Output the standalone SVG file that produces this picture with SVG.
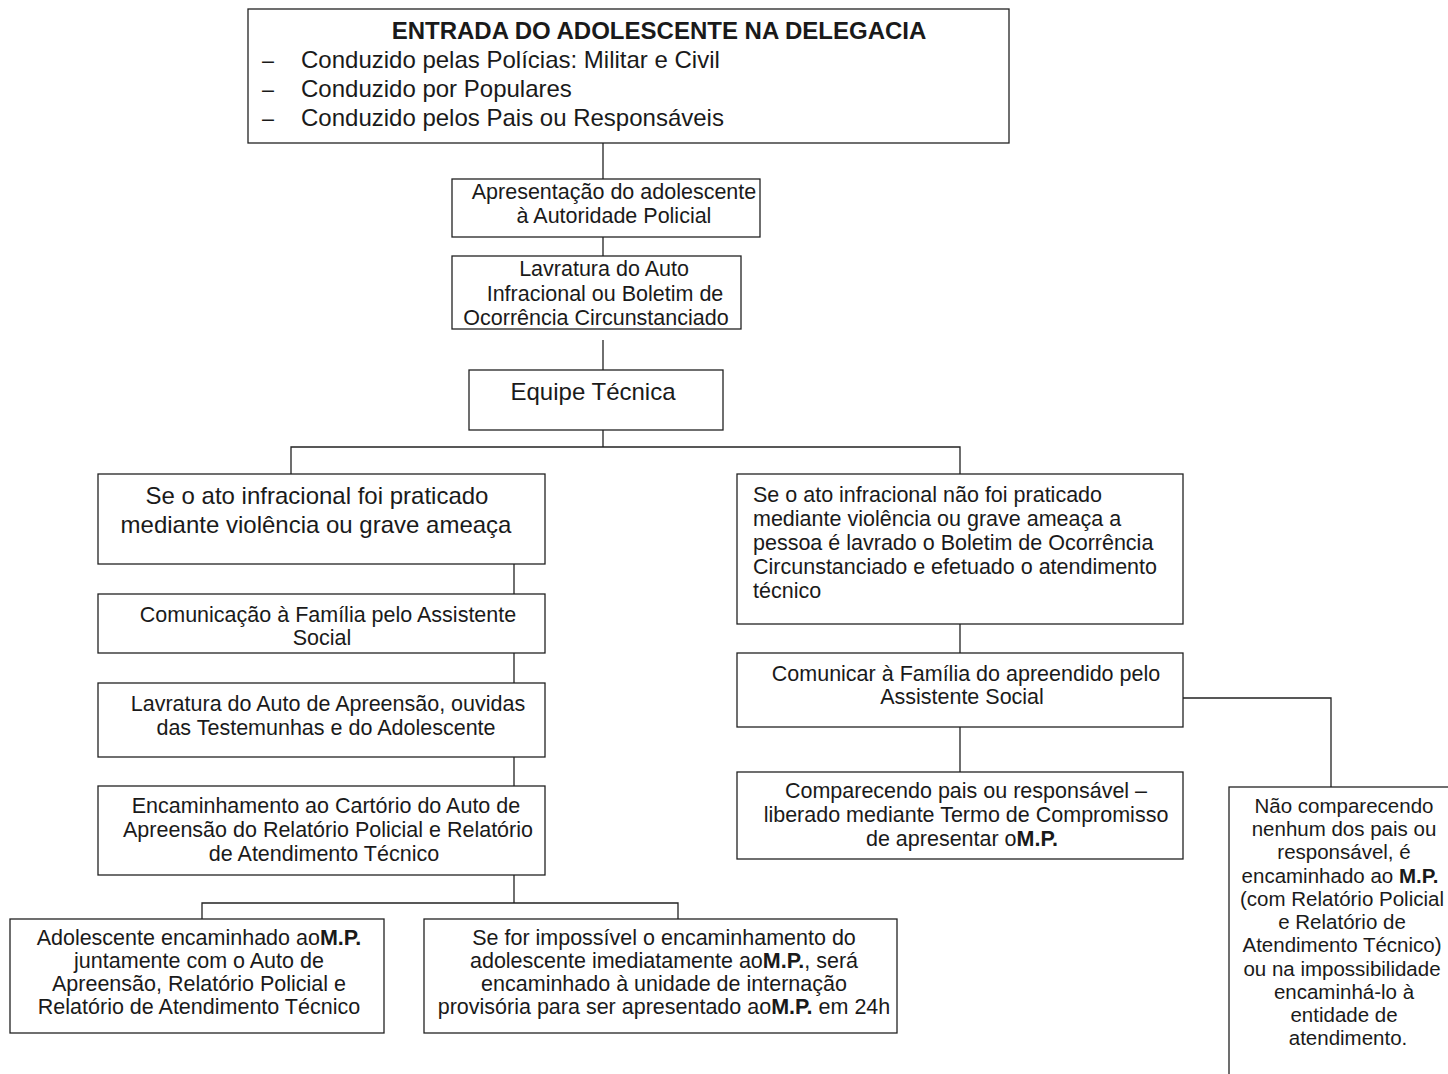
<svg xmlns="http://www.w3.org/2000/svg" width="1448" height="1074" viewBox="0 0 1448 1074">
<style>
  .box { fill: #ffffff; stroke: #222222; stroke-width: 1.3; }
  .ln { fill: none; stroke: #222222; stroke-width: 1.3; }
  text { font-family: "Liberation Sans", Arial, sans-serif; fill: #1a1a1a; }
  .c { text-anchor: middle; }
  .b { font-weight: bold; }
  .s24 { font-size: 24px; }
  .s21 { font-size: 21.5px; }
  .s20 { font-size: 20.5px; }
</style>
<rect width="1448" height="1074" fill="#ffffff"/>

<g id="connectors">
  <path class="ln" d="M603 143 V179"/>
  <path class="ln" d="M603 237 V256"/>
  <path class="ln" d="M603 340 V370"/>
  <path class="ln" d="M603 430 V447"/>
  <path class="ln" d="M291 474 V447 H960 V474"/>
  <path class="ln" d="M514 564 V594"/>
  <path class="ln" d="M514 653 V683"/>
  <path class="ln" d="M514 757 V786"/>
  <path class="ln" d="M514 875 V903"/>
  <path class="ln" d="M202 919 V903 H678 V919"/>
  <path class="ln" d="M960 624 V653"/>
  <path class="ln" d="M960 727 V772"/>
  <path class="ln" d="M1183 698 H1331 V787"/>
</g>

<g id="entrada">
  <rect class="box" x="248" y="9" width="761" height="134"/>
  <text class="s24 b c" x="659" y="39">ENTRADA DO ADOLESCENTE NA DELEGACIA</text>
  <text class="s21" x="262" y="68">–</text>
  <text class="s24" x="301" y="68">Conduzido pelas Polícias: Militar e Civil</text>
  <text class="s21" x="262" y="97">–</text>
  <text class="s24" x="301" y="97">Conduzido por Populares</text>
  <text class="s21" x="262" y="126">–</text>
  <text class="s24" x="301" y="126">Conduzido pelos Pais ou Responsáveis</text>
</g>

<g id="apresentacao">
  <rect class="box" x="452" y="179" width="308" height="58"/>
  <text class="s21 c" x="614" y="199">Apresentação do adolescente</text>
  <text class="s21 c" x="614" y="223">à Autoridade Policial</text>
</g>

<g id="lavratura-auto">
  <rect class="box" x="452" y="256" width="289" height="73"/>
  <text class="s21 c" x="604" y="276">Lavratura do Auto</text>
  <text class="s21 c" x="605" y="301">Infracional ou Boletim de</text>
  <text class="s21 c" x="596" y="325">Ocorrência Circunstanciado</text>
</g>

<g id="equipe">
  <rect class="box" x="469" y="370" width="254" height="60"/>
  <text class="s24 c" x="593" y="400">Equipe Técnica</text>
</g>

<g id="violencia">
  <rect class="box" x="98" y="474" width="447" height="90"/>
  <text class="s24 c" x="317" y="504">Se o ato infracional foi praticado</text>
  <text class="s24 c" x="316" y="533">mediante violência ou grave ameaça</text>
</g>

<g id="comunicacao">
  <rect class="box" x="98" y="594" width="447" height="59"/>
  <text class="s21 c" x="328" y="622">Comunicação à Família pelo Assistente</text>
  <text class="s21 c" x="322" y="645">Social</text>
</g>

<g id="lavratura-apreensao">
  <rect class="box" x="98" y="683" width="447" height="74"/>
  <text class="s21 c" x="328" y="711">Lavratura do Auto de Apreensão, ouvidas</text>
  <text class="s21 c" x="326" y="735">das Testemunhas e do Adolescente</text>
</g>

<g id="encaminhamento-cartorio">
  <rect class="box" x="98" y="786" width="447" height="89"/>
  <text class="s21 c" x="326" y="813">Encaminhamento ao Cartório do Auto de</text>
  <text class="s21 c" x="328" y="837">Apreensão do Relatório Policial e Relatório</text>
  <text class="s21 c" x="324" y="861">de Atendimento Técnico</text>
</g>

<g id="encaminhado-mp">
  <rect class="box" x="10" y="919" width="374" height="114"/>
  <text class="s21 c" x="199" y="945">Adolescente encaminhado ao<tspan class="b">M.P.</tspan></text>
  <text class="s21 c" x="199" y="968">juntamente com o Auto de</text>
  <text class="s21 c" x="199" y="991">Apreensão, Relatório Policial e</text>
  <text class="s21 c" x="199" y="1014">Relatório de Atendimento Técnico</text>
</g>

<g id="impossivel">
  <rect class="box" x="424" y="919" width="473" height="114"/>
  <text class="s21 c" x="664" y="945">Se for impossível o encaminhamento do</text>
  <text class="s21 c" x="664" y="968">adolescente imediatamente ao<tspan class="b">M.P.</tspan>, será</text>
  <text class="s21 c" x="664" y="991">encaminhado à unidade de internação</text>
  <text class="s21 c" x="664" y="1014">provisória para ser apresentado ao<tspan class="b">M.P.</tspan> em 24h</text>
</g>

<g id="nao-violencia">
  <rect class="box" x="737" y="474" width="446" height="150"/>
  <text class="s21" x="753" y="502">Se o ato infracional não foi praticado</text>
  <text class="s21" x="753" y="526">mediante violência ou grave ameaça a</text>
  <text class="s21" x="753" y="550">pessoa é lavrado o Boletim de Ocorrência</text>
  <text class="s21" x="753" y="574">Circunstanciado e efetuado o atendimento</text>
  <text class="s21" x="753" y="598">técnico</text>
</g>

<g id="comunicar">
  <rect class="box" x="737" y="653" width="446" height="74"/>
  <text class="s21 c" x="966" y="681">Comunicar à Família do apreendido pelo</text>
  <text class="s21 c" x="962" y="704">Assistente Social</text>
</g>

<g id="comparecendo">
  <rect class="box" x="737" y="772" width="446" height="87"/>
  <text class="s21 c" x="966" y="798">Comparecendo pais ou responsável –</text>
  <text class="s21 c" x="966" y="822">liberado mediante Termo de Compromisso</text>
  <text class="s21 c" x="962" y="846">de apresentar o<tspan class="b">M.P.</tspan></text>
</g>

<g id="nao-comparecendo">
  <rect class="box" x="1229" y="787" width="240" height="300"/>
  <text class="s20 c" x="1344" y="813">Não comparecendo</text>
  <text class="s20 c" x="1344" y="836">nenhum dos pais ou</text>
  <text class="s20 c" x="1344" y="859">responsável, é</text>
  <text class="s20 c" x="1340" y="883">encaminhado ao <tspan class="b">M.P.</tspan></text>
  <text class="s20 c" x="1342" y="906">(com Relatório Policial</text>
  <text class="s20 c" x="1342" y="929">e Relatório de</text>
  <text class="s20 c" x="1342" y="952">Atendimento Técnico)</text>
  <text class="s20 c" x="1342" y="976">ou na impossibilidade</text>
  <text class="s20 c" x="1344" y="999">encaminhá-lo à</text>
  <text class="s20 c" x="1344" y="1022">entidade de</text>
  <text class="s20 c" x="1348" y="1045">atendimento.</text>
</g>
</svg>
